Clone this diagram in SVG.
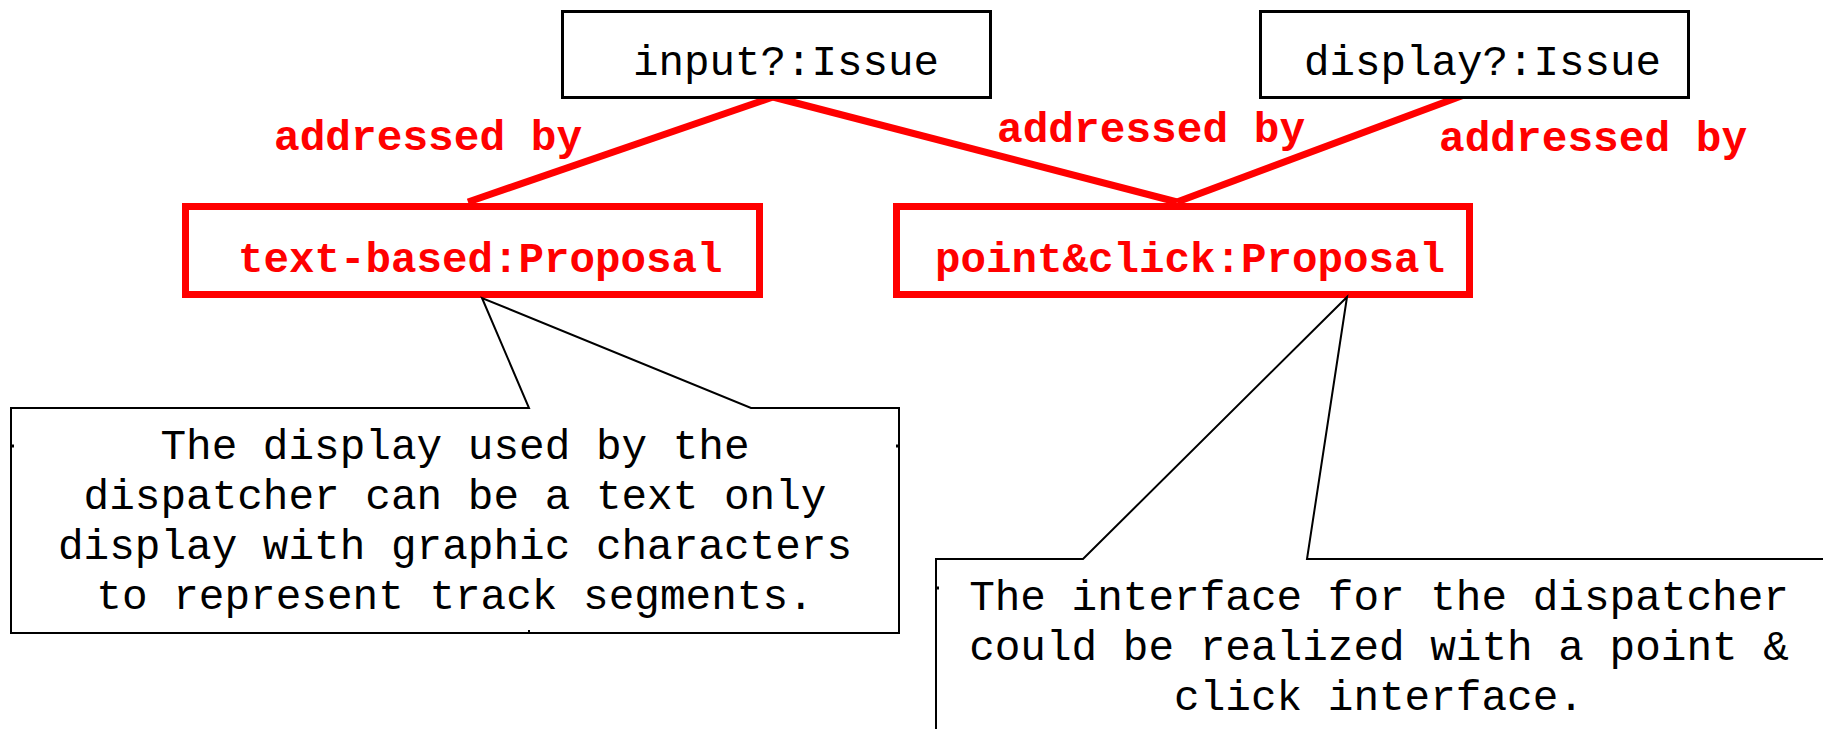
<svg xmlns="http://www.w3.org/2000/svg" width="1823" height="729" viewBox="0 0 1823 729">
<style>
.issue{fill:#fff;stroke:#000;stroke-width:3}
.prop{fill:#fff;stroke:#f00;stroke-width:7}
.conn{stroke:#f00;stroke-width:7;fill:none}
.note{fill:#fff;stroke:#000;stroke-width:2;stroke-linejoin:miter}
.t{font-family:"Liberation Mono","Courier New",monospace}
.it{font-size:42.5px;fill:#000}
.pt{font-size:42.5px;font-weight:bold;fill:#f00}
.lbl{font-size:42.8px;font-weight:bold;fill:#f00}
.nt{font-size:42.7px;fill:#000;text-anchor:middle}
</style>
<rect width="1823" height="729" fill="#fff"/>
<g id="connectors">
<line class="conn" x1="773" y1="97" x2="468" y2="202"/>
<line class="conn" x1="773" y1="97" x2="1177" y2="202"/>
<line class="conn" x1="1464" y1="95" x2="1177" y2="202"/>
<text class="t lbl" x="274" y="150">addressed by</text>
<text class="t lbl" x="997" y="142">addressed by</text>
<text class="t lbl" x="1439" y="151">addressed by</text>
</g>
<g id="input-issue">
<rect class="issue" x="562.5" y="11.5" width="428" height="86"/>
<text class="t it" x="633" y="75">input?:Issue</text>
</g>
<g id="display-issue">
<rect class="issue" x="1260.5" y="11.5" width="428" height="86"/>
<text class="t it" x="1304" y="75">display?:Issue</text>
</g>
<g id="text-based-proposal">
<rect class="prop" x="185.5" y="206.5" width="574" height="88"/>
<text class="t pt" x="238" y="272">text-based:Proposal</text>
</g>
<g id="point-click-proposal">
<rect class="prop" x="896.5" y="206.5" width="573" height="88"/>
<text class="t pt" x="935" y="272">point&amp;click:Proposal</text>
</g>
<g id="note-text-based">
<path class="note" d="M482,298 L529,408 L11,408 L11,633 L899,633 L899,408 L751,408 Z"/>
<line x1="11" y1="446" x2="14" y2="446" stroke="#000" stroke-width="3"/>
<line x1="899" y1="446" x2="896" y2="446" stroke="#000" stroke-width="3"/>
<line x1="529" y1="633" x2="529" y2="630" stroke="#000" stroke-width="2"/>
<text class="t nt" x="455" y="459">The display used by the</text>
<text class="t nt" x="455" y="509">dispatcher can be a text only</text>
<text class="t nt" x="455" y="559">display with graphic characters</text>
<text class="t nt" x="455" y="609">to represent track segments.</text>
</g>
<g id="note-point-click">
<path class="note" d="M1347,297 L1083,559 L936,559 L936,745 L1840,745 L1840,559 L1307,559 Z"/>
<line x1="936" y1="588" x2="939" y2="588" stroke="#000" stroke-width="3"/>
<text class="t nt" x="1379" y="610">The interface for the dispatcher</text>
<text class="t nt" x="1379" y="660">could be realized with a point &amp;</text>
<text class="t nt" x="1379" y="710">click interface.</text>
</g>
</svg>
